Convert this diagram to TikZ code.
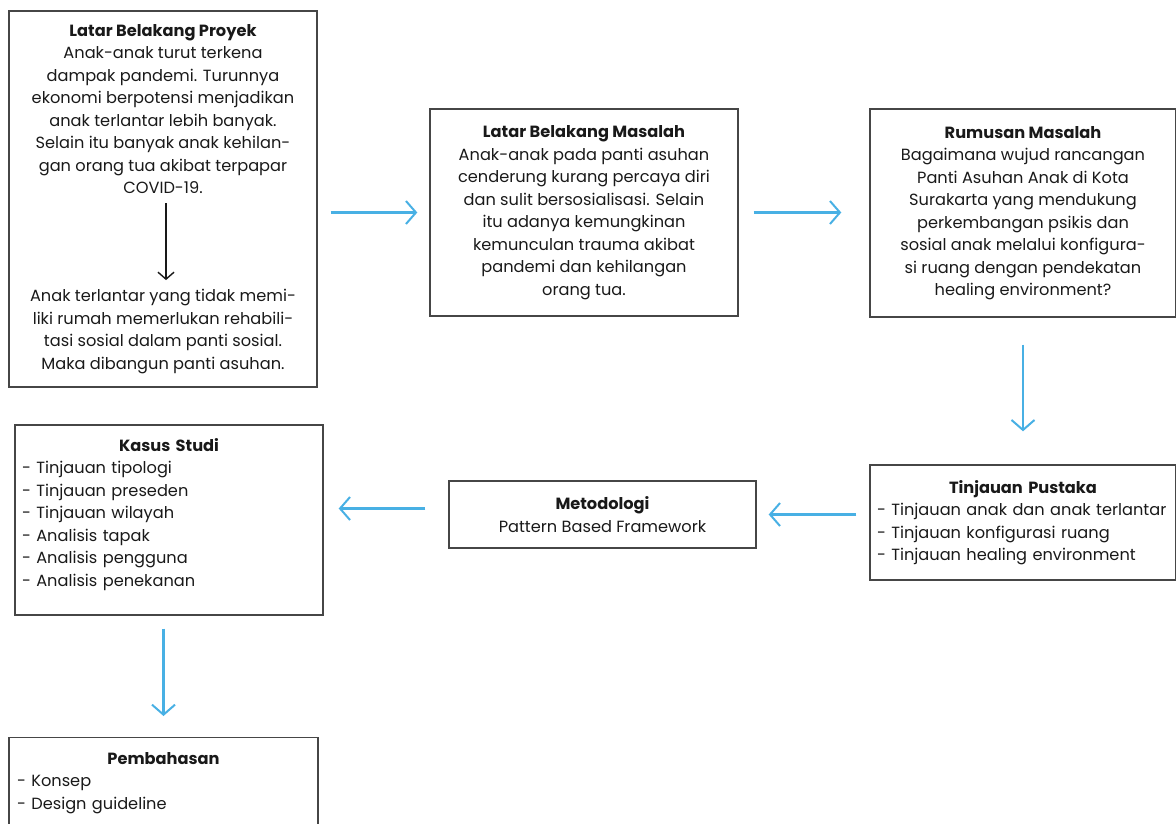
\documentclass[tikz,border=0pt]{standalone}
\usepackage{fontspec}
\setmainfont{Poppins}
\usetikzlibrary{arrows.meta}

\newcommand{\judul}[1]{\makebox[\linewidth]{\textbf{#1}}}

\begin{document}
\begin{tikzpicture}[x=1pt,y=-1pt,
        kotak/.style={draw=garis, line width=1.4pt, inner sep=0pt, align=center, text=teks, font=\fontsize{16.2}{22.5}\selectfont},
        isi/.style={inner sep=0pt, align=center, text=teks, font=\fontsize{16.2}{22.5}\selectfont},
        panahbiru/.style={draw=biru, line width=2.3pt, -{Straight Barb[length=10pt,width=23pt,line width=2pt]}},
        panahhitam/.style={draw=teks, line width=1.6pt, -{Straight Barb[length=7pt,width=16pt,line width=1.4pt]}}]
        \definecolor{garis}{RGB}{70,70,70}
        \definecolor{teks}{RGB}{25,25,25}
        \definecolor{biru}{RGB}{72,176,228}

        \useasboundingbox (0,0) rectangle (1176,823);

        % baris atas
        \node[kotak, minimum width=308pt, minimum height=376pt] (proyek) at (163,199) {};
        \node[isi, anchor=north] (proyekatas) at ([yshift=-14pt]proyek.north) {\textbf{Latar Belakang Proyek}\\Anak-anak turut terkena\\dampak pandemi. Turunnya\\ekonomi berpotensi menjadikan\\anak terlantar lebih banyak.\\Selain itu banyak anak kehilan-\\gan orang tua akibat terpapar\\COVID-19.};
        \node[isi, anchor=south] (proyekbawah) at ([yshift=14pt]proyek.south) {Anak terlantar yang tidak memi-\\liki rumah memerlukan rehabili-\\tasi sosial dalam panti sosial.\\Maka dibangun panti asuhan.};
        \draw[panahhitam, shorten <=9pt, shorten >=9pt] ([xshift=3pt]proyekatas.south) -- ([xshift=3pt]proyekbawah.north);

        \node[kotak, minimum width=308pt, minimum height=207pt] (masalah) at (584,212.5) {\textbf{Latar Belakang Masalah}\\Anak-anak pada panti asuhan\\cenderung kurang percaya diri\\dan sulit bersosialisasi. Selain\\itu adanya kemungkinan\\kemunculan trauma akibat\\pandemi dan kehilangan\\orang tua.};
        \node[kotak, minimum width=306pt, minimum height=208pt] (rumusan) at (1023,213) {\textbf{Rumusan Masalah}\\Bagaimana wujud rancangan\\Panti Asuhan Anak di Kota\\Surakarta yang mendukung\\perkembangan psikis dan\\sosial anak melalui konfigura-\\si ruang dengan pendekatan\\healing environment?};

        % baris tengah
        \node[kotak, minimum width=306pt, minimum height=115pt, text width=292pt, align=left] (pustaka) at (1023,522.5) {\judul{Tinjauan Pustaka}\\- Tinjauan anak dan anak terlantar\\- Tinjauan konfigurasi ruang\\- Tinjauan healing environment};
        \node[kotak, minimum width=307pt, minimum height=67pt] (metodologi) at (602.5,514.5) {\textbf{Metodologi}\\Pattern Based Framework};
        \node[kotak, minimum width=308pt, minimum height=190pt] (kasus) at (169,520) {};
        \node[isi, anchor=north, text width=294pt, align=left] (kasusisi) at ([yshift=-14pt]kasus.north) {\judul{Kasus Studi}\\- Tinjauan tipologi\\- Tinjauan preseden\\- Tinjauan wilayah\\- Analisis tapak\\- Analisis pengguna\\- Analisis penekanan};

        % baris bawah
        \node[kotak, anchor=north, minimum width=309pt, minimum height=120pt] (pembahasan) at (163.5,737) {};
        \node[isi, anchor=north, text width=293pt, align=left] (pembahasanisi) at ([yshift=-15pt]pembahasan.north) {\judul{Pembahasan}\\- Konsep\\- Design guideline};

        % panah
        \draw[panahbiru, shorten <=13pt, shorten >=12pt] (proyek.east |- masalah.west) -- (masalah.west);
        \draw[panahbiru, shorten <=15pt, shorten >=28pt] (masalah.east) -- (masalah.east -| rumusan.west);
        \draw[panahbiru, shorten <=27pt, shorten >=33pt] (rumusan.south) -- (pustaka.north);
        \draw[panahbiru, shorten <=13pt, shorten >=12pt] (pustaka.west |- metodologi.east) -- (metodologi.east);
        \draw[panahbiru, shorten <=23pt, shorten >=15pt] ([yshift=6pt]metodologi.west) -- ([yshift=6pt]metodologi.west -| kasus.east);
        \draw[panahbiru, shorten <=13pt, shorten >=21pt] (kasus.south -| pembahasan.north) -- (pembahasan.north);
    \end{tikzpicture}
\end{document}
